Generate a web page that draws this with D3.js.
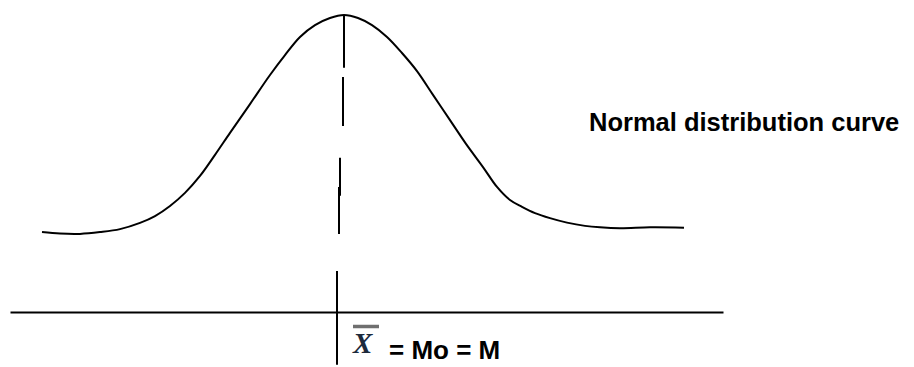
<!DOCTYPE html>
<html>
<head>
<meta charset="utf-8">
<script src="https://cdn.jsdelivr.net/npm/d3@7"></script>
<style>
  body { margin: 0; background: #fff; }
</style>
</head>
<body>
<div id="chart"></div>
<script>
// points (x in std units from the mean, y relative height)
const curveX = [-3.02, -2.84, -2.64, -2.44, -2.24, -2.04, -1.89, -1.74, -1.59, -1.44, -1.29,
	-1.14, -0.94, -0.74, -0.59, -0.44, -0.29, -0.14, 0,
	0.14, 0.28, 0.43, 0.58, 0.73, 0.89, 1.06, 1.22, 1.39, 1.53, 1.66, 1.78, 1.91, 2.06,
	2.23, 2.41, 2.56, 2.76, 3.06, 3.40];
const curveY = [0.269, 0.264, 0.263, 0.269, 0.279, 0.300, 0.323, 0.357, 0.401, 0.458, 0.529,
	0.603, 0.700, 0.798, 0.865, 0.926, 0.966, 0.990, 1.0,
	0.990, 0.966, 0.926, 0.872, 0.811, 0.731, 0.646, 0.566, 0.488, 0.421, 0.377, 0.354, 0.333, 0.316,
	0.301, 0.290, 0.285, 0.282, 0.285, 0.284];

// pieces of the dashed mean line, then the solid piece below the axis
const meanX = [0, -0.01, -0.04, -0.05, -0.07];
const meanTop = [1.0, 0.791, 0.519, 0.421, 0.138];
const meanBottom = [0.822, 0.626, 0.391, 0.263, -0.178];

const axisExtent = [-3.34, 3.79];
const title = "Normal distribution curve";
const meanSymbol = "X";
const meanLabel = "= Mo = M";

const width = 914,
	height = 367;

const svg = d3
	.select("#chart")
	.append("svg")
	.attr("width", width)
	.attr("height", height);

const x = d3.scaleLinear().domain(axisExtent).range([10, 723]);
const y = d3.scaleLinear().domain([0, 1]).range([312, 15]);

// horizontal axis, no ticks
const axis = svg.append("g")
	.attr("transform", `translate(0, ${y(0)})`)
	.call(d3.axisBottom(x).tickValues([]).tickSizeOuter(0));
axis.select(".domain").attr("stroke", "#000").attr("stroke-width", 2);

// the bell curve
const points = curveX.map((d, i) => [d, curveY[i]]);
svg.append("path")
	.datum(points)
	.attr("fill", "none")
	.attr("stroke", "#000")
	.attr("stroke-width", 2)
	.attr("d", d3.line()
		.x((d) => x(d[0]))
		.y((d) => y(d[1]))
		.curve(d3.curveCatmullRom));

// mean line
svg.selectAll(".mean")
	.data(meanX)
	.enter()
	.append("line")
	.attr("class", "mean")
	.attr("x1", (d) => x(d))
	.attr("x2", (d) => x(d))
	.attr("y1", (d, i) => y(meanTop[i]))
	.attr("y2", (d, i) => y(meanBottom[i]))
	.attr("stroke", "#000")
	.attr("stroke-width", 2);

// label under the axis
const lx = x(0);
svg.append("line")
	.attr("x1", lx + 9).attr("x2", lx + 35)
	.attr("y1", 326.5).attr("y2", 326.5)
	.attr("stroke", "#6f6f6f")
	.attr("stroke-width", 3.5);
svg.append("text")
	.attr("x", lx + 9)
	.attr("y", 353)
	.attr("font-family", "Liberation Serif, Times New Roman, serif")
	.attr("font-weight", "bold")
	.attr("font-style", "italic")
	.attr("font-size", 29)
	.attr("fill", "#1c2a3c")
	.text(meanSymbol);
svg.append("text")
	.attr("x", lx + 45)
	.attr("y", 359)
	.attr("font-family", "Liberation Sans, Arial, sans-serif")
	.attr("font-weight", "bold")
	.attr("font-size", 26)
	.attr("fill", "#000")
	.text(meanLabel);

svg.append("text")
	.attr("x", 589)
	.attr("y", 131)
	.attr("font-family", "Liberation Sans, Arial, sans-serif")
	.attr("font-weight", "bold")
	.attr("font-size", 25.5)
	.attr("fill", "#000")
	.text(title);
</script>
</body>
</html>
